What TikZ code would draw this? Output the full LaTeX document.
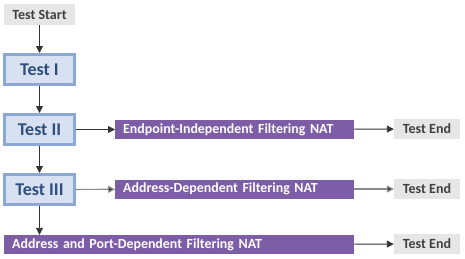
\documentclass[tikz,border=0pt]{standalone}
\usepackage{fontspec}
\setmainfont{Carlito}
\usetikzlibrary{arrows.meta}
\definecolor{grayfill}{HTML}{E6E6E6}
\definecolor{graytext}{HTML}{404040}
\definecolor{bluefill}{HTML}{D7E1F1}
\definecolor{blueborder}{HTML}{8CA8D5}
\definecolor{bluetext}{HTML}{2E4F7E}
\definecolor{purplefill}{HTML}{7D5DA5}
\definecolor{arrowdark}{HTML}{333333}
\definecolor{arrowgray}{HTML}{8A8A8A}
\tikzset{
  x=1pt, y=-1pt,
  termbox/.style={fill=grayfill, text=graytext, font=\bfseries\fontsize{14}{16}\selectfont, minimum width=66pt, minimum height=20pt, inner sep=0pt},
  testbox/.style={fill=bluefill, draw=blueborder, line width=3pt, text=bluetext, font=\bfseries\fontsize{18}{20}\selectfont, minimum width=70pt, minimum height=30pt, inner sep=0pt},
  natbar/.style={fill=purplefill, text=white, font=\bfseries\fontsize{13.9}{16}\selectfont, minimum height=19pt, inner sep=0pt, text width=#1, align=left},
  conn/.style={draw=arrowdark, line width=0.9pt, -{Triangle[length=7pt,width=7pt]}},
  conngray/.style={draw=arrowgray, line width=1.2pt, -{Triangle[length=7pt,width=7pt,fill=arrowdark]}},
}
\begin{document}
\begin{tikzpicture}
\useasboundingbox (0,0) rectangle (465,258);
\node[termbox, minimum width=71pt, minimum height=21pt] (start) at (39.5,14.5) {Test Start};
\node[testbox] (t1) at (39.5,69.5) {Test I};
\node[testbox] (t2) at (39.5,129.5) {Test II};
\node[testbox] (t3) at (39.5,189.5) {Test III};
\node[natbar=239pt, anchor=west] (n1) at (115,129.5) {\hspace*{8pt}\mbox{Endpoint-Independent Filtering NAT}};
\node[natbar=239pt, anchor=west] (n2) at (115,189) {\hspace*{8pt}\mbox{Address-Dependent Filtering NAT}};
\node[natbar=350pt, anchor=west] (n3) at (4,244.5) {\hspace*{8pt}\mbox{Address and Port-Dependent Filtering NAT}};
\node[termbox] (e1) at (427,129) {Test End};
\node[termbox] (e2) at (427,189) {Test End};
\node[termbox] (e3) at (427,244) {Test End};
\draw[conn] (start) -- (t1);
\draw[conn] (t1) -- (t2);
\draw[conn] (t2) -- (t3);
\draw[conn] (t3.south) -- (t3.south |- n3.north);
\draw[conn] (t2) -- (n1);
\draw[conngray] (t3) -- (n2);
\draw[conn] (n1) -- (e1);
\draw[conngray] (n2) -- (e2);
\draw[conn] (n3) -- (e3);
\end{tikzpicture}
\end{document}
